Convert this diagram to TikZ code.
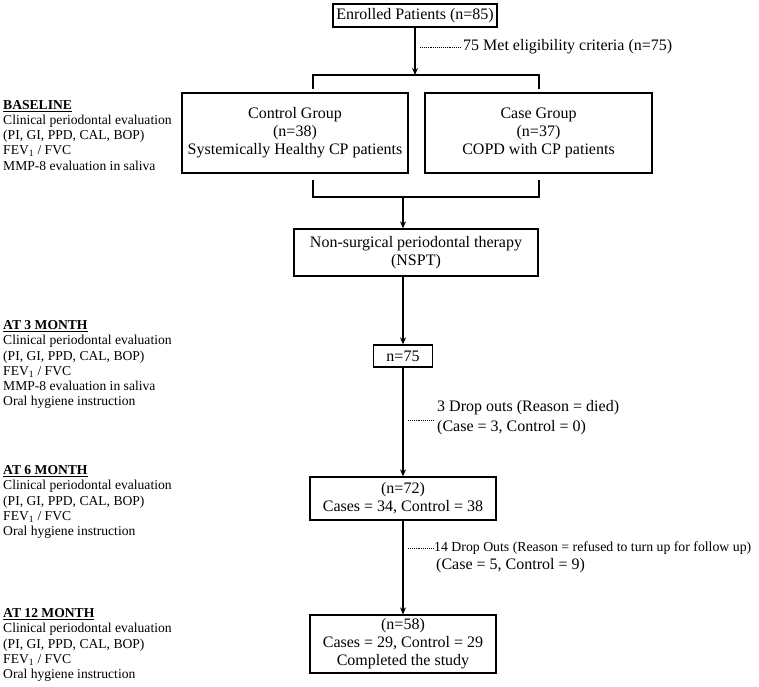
\documentclass[tikz,border=0pt]{standalone}
\usepackage{fontspec}
\setmainfont{Liberation Serif}
\usetikzlibrary{arrows.meta}
\begin{document}
\begin{tikzpicture}[x=1pt,y=-1pt,
  box/.style={draw,line width=1.3pt,align=center,inner sep=0pt,font=\fontsize{16}{18}\selectfont},
  sidetext/.style={anchor=west,align=left,inner sep=0pt,font=\fontsize{16}{20}\selectfont},
  smallside/.style={anchor=west,inner sep=0pt,font=\fontsize{13.8}{17}\selectfont},
  lefttext/.style={anchor=north west,align=left,inner sep=0pt,font=\fontsize{13.6}{15.2}\selectfont},
  arr/.style={line width=1.6pt,-{Stealth[length=7pt,width=6pt]}},
  ln/.style={line width=1.3pt},
  dots/.style={line width=1pt,dash pattern=on 0.9pt off 1pt}]
\useasboundingbox (0,0) rectangle (759,686);

% boxes
\node[box,minimum width=164pt,minimum height=23pt] (enr) at (415,15.5) {Enrolled Patients (n=85)};
\node[box,minimum width=226pt,minimum height=80pt] (ctrl) at (295,133) {Control Group\\(n=38)\\Systemically Healthy CP patients};
\node[box,minimum width=227pt,minimum height=80pt] (case) at (538.5,133) {Case Group\\(n=37)\\COPD with CP patients};
\node[box,minimum width=244pt,minimum height=47pt] (nspt) at (416,252.5) {Non-surgical periodontal therapy\\(NSPT)};
\node[box,minimum width=59pt,minimum height=22pt] (n75) at (403,356) {n=75};
\node[box,minimum width=186pt,minimum height=43pt] (n72) at (403,498.5) {(n=72)\\Cases = 34, Control = 38};
\node[box,minimum width=186pt,minimum height=58pt] (n58) at (403,644) {(n=58)\\Cases = 29, Control = 29\\Completed the study};

% top split
\coordinate (bt) at (415,75);
\coordinate (btl) at (313,75);
\coordinate (btr) at (539,75);
\coordinate (btld) at (313,89);
\coordinate (btrd) at (539,89);
\draw[arr] (enr.south -| bt) -- (bt);
\draw[ln] (btld) -- (btl) -- (btr) -- (btrd);

% eligibility
\coordinate (e1) at (420,47);
\coordinate (e2) at (461,47);
\draw[dots] (e1) -- (e2);
\node[sidetext] (elig) at (463,47) {75 Met eligibility criteria (n=75)};

% bottom merge
\coordinate (bbl) at (313,180);
\coordinate (bbr) at (539,180);
\coordinate (bbl2) at (313,197);
\coordinate (bbr2) at (539,197);
\coordinate (bm) at (403,197);
\draw[ln] (bbl) -- (bbl2) -- (bbr2) -- (bbr);
\draw[arr] (bm) -- (bm |- nspt.north);

\draw[arr] (nspt.south -| n75) -- (n75.north);
\draw[arr] (n75) -- (n72);
\draw[arr] (n72) -- (n58);

% drop outs
\coordinate (d1) at (408,420);
\coordinate (d2) at (434,420);
\draw[dots] (d1) -- (d2);
\node[sidetext] (drop1) at (437,418) {3 Drop outs (Reason = died)\\(Case = 3, Control = 0)};

\coordinate (f1) at (408,548);
\coordinate (f2) at (433,548);
\draw[dots] (f1) -- (f2);
\node[smallside] (drop2a) at (434,548) {14 Drop Outs (Reason = refused to turn up for follow up)};
\node[sidetext] (drop2b) at (436,566) {(Case = 5, Control = 9)};

% left texts
\node[lefttext] (base) at (3,100) {\underline{\textbf{BASELINE}}\\Clinical periodontal evaluation\\(PI, GI, PPD, CAL, BOP)\\FEV\textsubscript{1} / FVC\\MMP-8 evaluation in saliva};
\node[lefttext] (m3) at (3,320.5) {\underline{\textbf{AT 3 MONTH}}\\Clinical periodontal evaluation\\(PI, GI, PPD, CAL, BOP)\\FEV\textsubscript{1} / FVC\\MMP-8 evaluation in saliva\\Oral hygiene instruction};
\node[lefttext] (m6) at (3,465.5) {\underline{\textbf{AT 6 MONTH}}\\Clinical periodontal evaluation\\(PI, GI, PPD, CAL, BOP)\\FEV\textsubscript{1} / FVC\\Oral hygiene instruction};
\node[lefttext] (m12) at (3,608.5) {\underline{\textbf{AT 12 MONTH}}\\Clinical periodontal evaluation\\(PI, GI, PPD, CAL, BOP)\\FEV\textsubscript{1} / FVC\\Oral hygiene instruction};
\end{tikzpicture}
\end{document}
